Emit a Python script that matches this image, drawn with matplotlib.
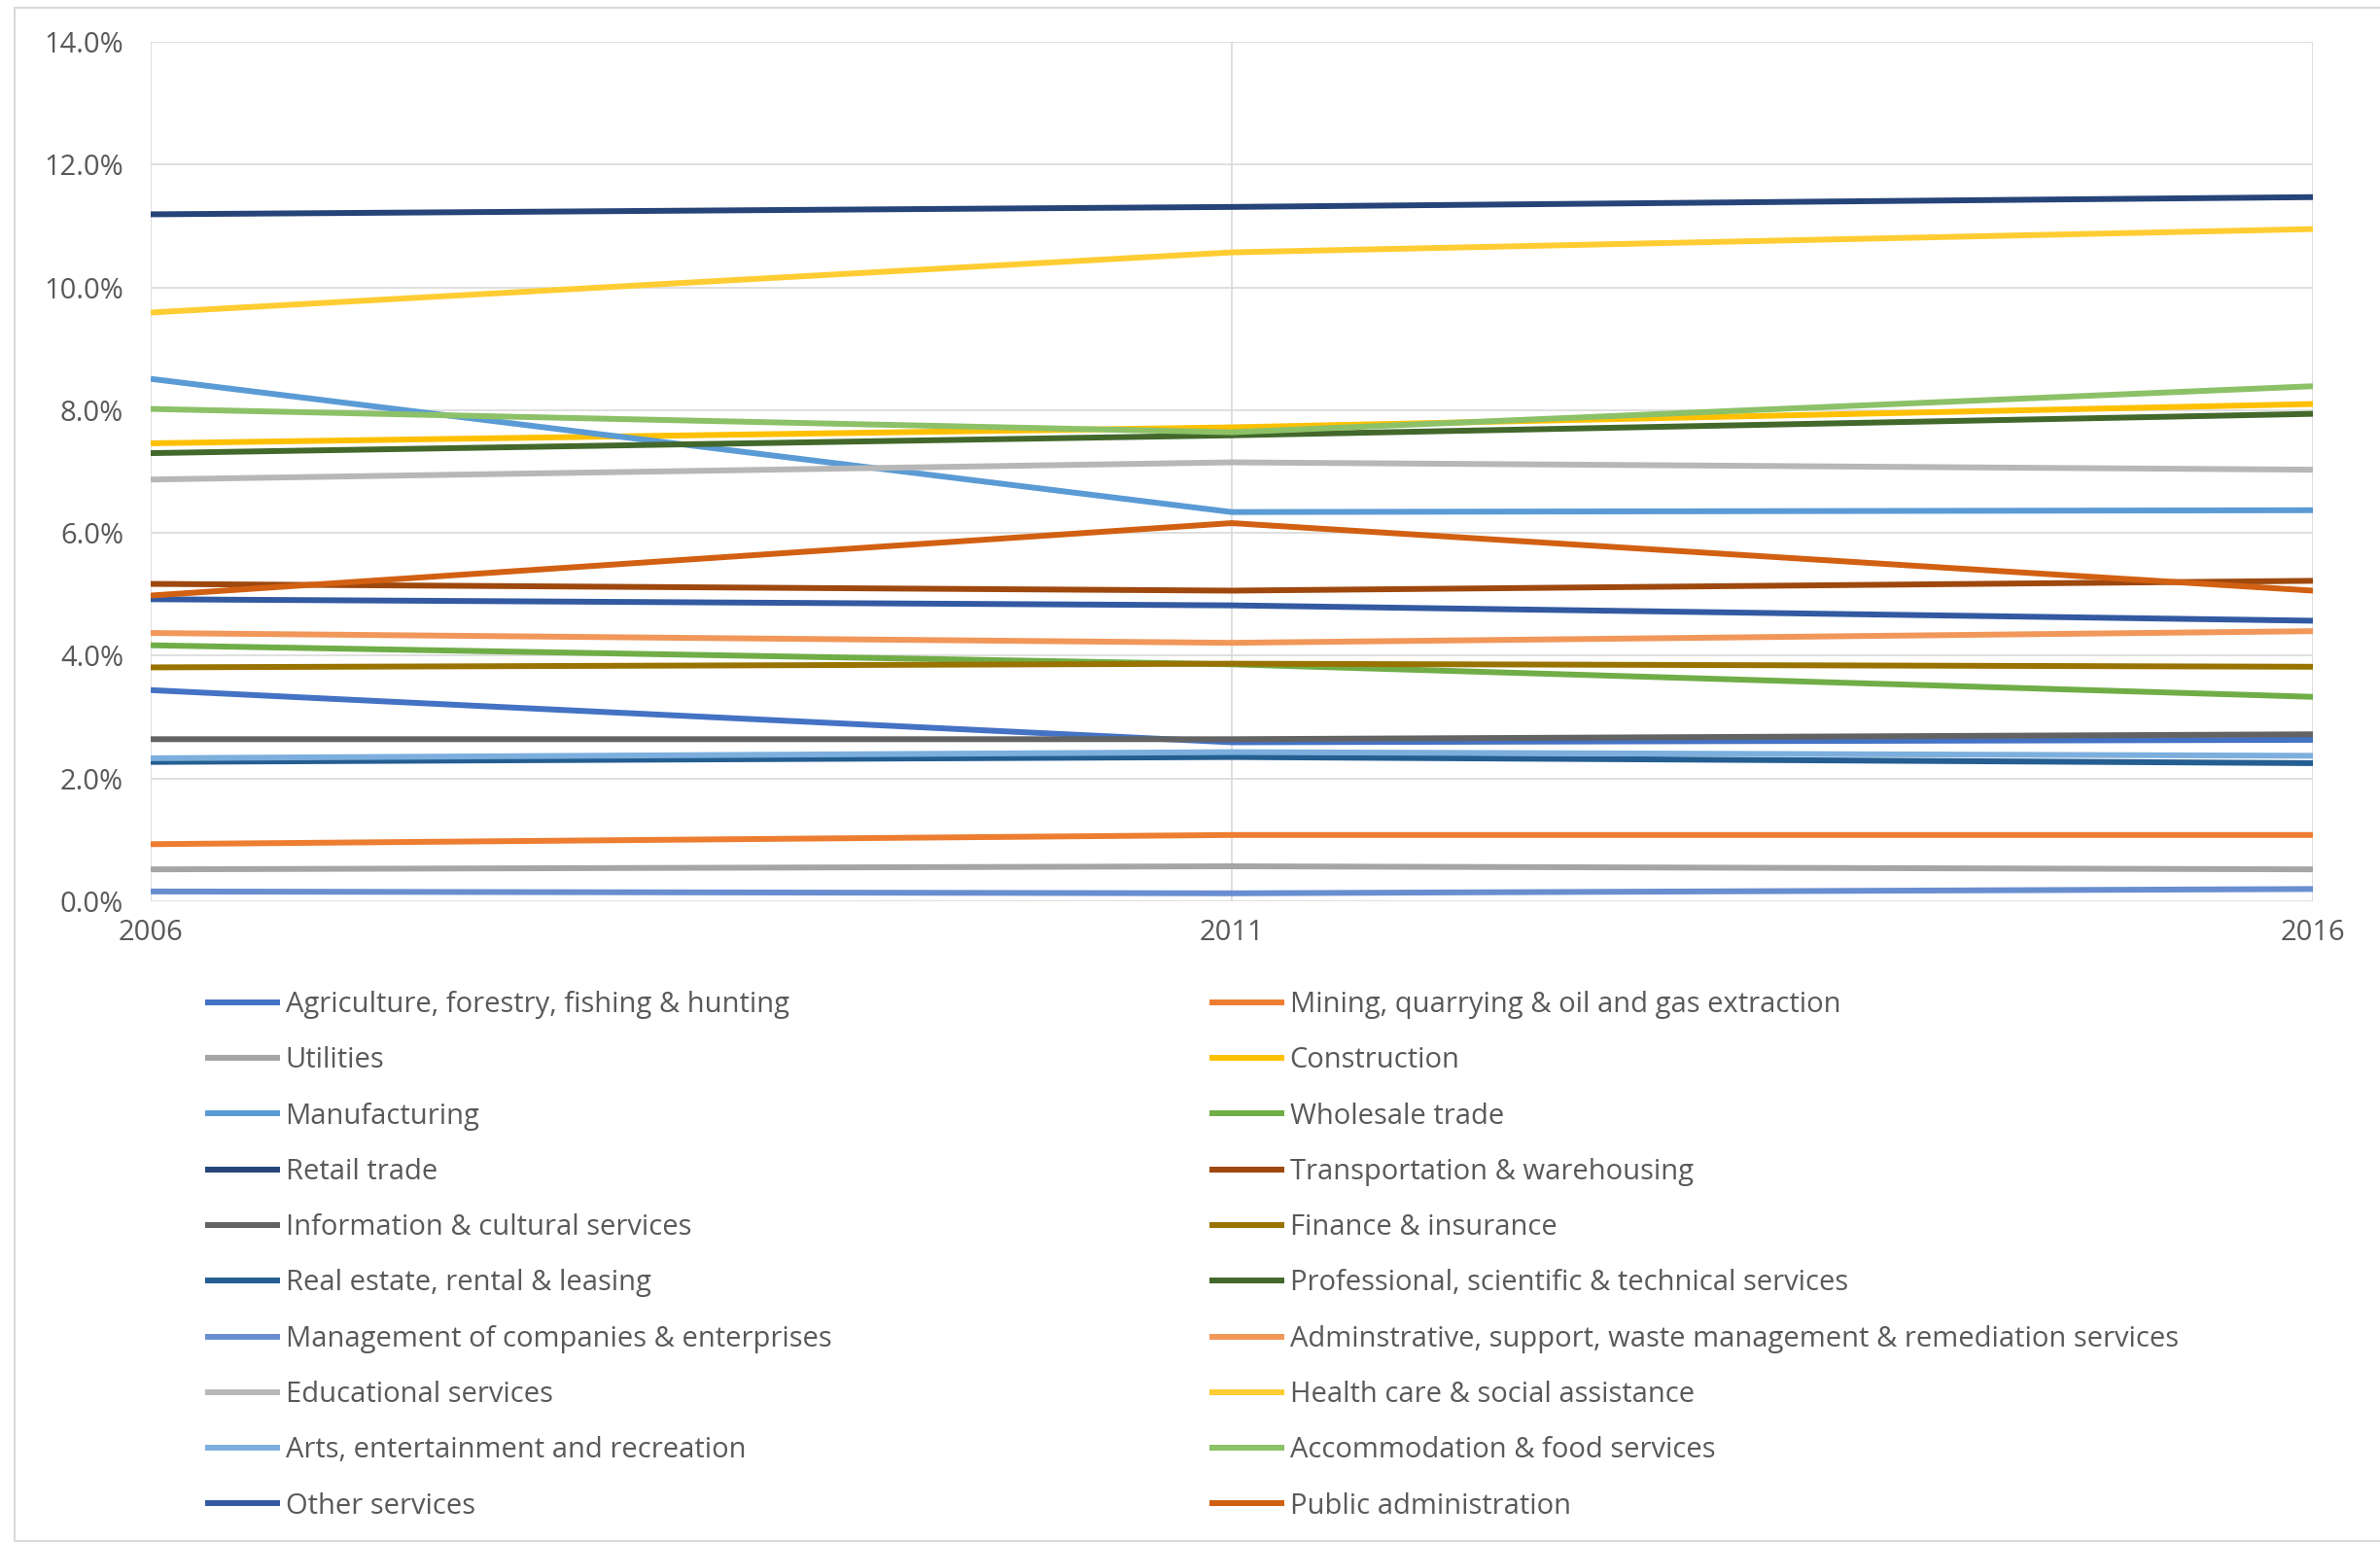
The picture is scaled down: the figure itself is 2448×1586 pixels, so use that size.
import numpy as np
import matplotlib.pyplot as plt
from matplotlib.patches import Rectangle
from matplotlib.ticker import FuncFormatter

plt.rcParams['font.family'] = ['Open Sans', 'DejaVu Sans']

# =========================================================
# DATA (share of employment, %)
# =========================================================

years = [2006, 2011, 2016]

industries = [
    "Agriculture, forestry, fishing & hunting",
    "Mining, quarrying & oil and gas extraction",
    "Utilities",
    "Construction",
    "Manufacturing",
    "Wholesale trade",
    "Retail trade",
    "Transportation & warehousing",
    "Information & cultural services",
    "Finance & insurance",
    "Real estate, rental & leasing",
    "Professional, scientific & technical services",
    "Management of companies & enterprises",
    "Adminstrative, support, waste management & remediation services",
    "Educational services",
    "Health care & social assistance",
    "Arts, entertainment and recreation",
    "Accommodation & food services",
    "Other services",
    "Public administration",
]

agriculture    = [3.44, 2.59, 2.63]
mining         = [0.93, 1.08, 1.08]
utilities      = [0.52, 0.57, 0.52]
construction   = [7.46, 7.72, 8.10]
manufacturing  = [8.51, 6.34, 6.37]
wholesale      = [4.17, 3.86, 3.33]
retail         = [11.19, 11.31, 11.47]
transportation = [5.17, 5.06, 5.22]
information    = [2.64, 2.64, 2.72]
finance        = [3.81, 3.87, 3.82]
real_estate    = [2.27, 2.35, 2.25]
professional   = [7.30, 7.59, 7.94]
management     = [0.16, 0.13, 0.20]
administrative = [4.37, 4.21, 4.40]
educational    = [6.87, 7.15, 7.03]
health         = [9.59, 10.57, 10.95]
arts           = [2.33, 2.43, 2.37]
accommodation  = [8.02, 7.64, 8.39]
other_services = [4.92, 4.82, 4.57]
public_admin   = [4.98, 6.16, 5.06]

series = [agriculture, mining, utilities, construction, manufacturing,
          wholesale, retail, transportation, information, finance,
          real_estate, professional, management, administrative,
          educational, health, arts, accommodation, other_services,
          public_admin]

colors = ["#4472C4", "#ED7D31", "#A5A5A5", "#FFC000", "#5B9BD5",
          "#70AD47", "#264478", "#9E480E", "#636363", "#997300",
          "#255E91", "#43682B", "#698ED0", "#F1975A", "#B7B7B7",
          "#FFCD33", "#7CAFDD", "#8CC168", "#335AA1", "#D26012"]

# =========================================================
# FIGURE
# =========================================================

W, H = 2448, 1586
fig = plt.figure(figsize=(W / 100, H / 100), dpi=100)

# chart area border (runs off the right edge of the screenshot)
fig.patches.append(Rectangle((15 / W, 1 / H), (W + 20) / W, (H - 9) / H,
                             transform=fig.transFigure, fill=False,
                             edgecolor="#D9D9D9", linewidth=1.5))

ax = fig.add_axes([155 / W, 1 - 927 / H, (2379 - 155) / W, (927 - 43) / H])

handles = []
for vals, name, c in zip(series, industries, colors):
    ln, = ax.plot(years, vals, color=c, linewidth=4.3,
                  solid_capstyle="butt", label=name)
    handles.append(ln)

ax.set_xlim(2006, 2016)
ax.set_ylim(0, 14)
ax.set_xticks(years)
ax.set_yticks(np.arange(0, 15, 2))
ax.yaxis.set_major_formatter(FuncFormatter(lambda v, p: f"{v:.1f}%"))

for s in ax.spines.values():
    s.set_visible(False)
ax.grid(True, color="#D9D9D9", linewidth=1.2)
ax.set_axisbelow(True)
ax.tick_params(length=0, colors="#595959", labelsize=21)
ax.tick_params(axis="y", pad=20)
ax.tick_params(axis="x", pad=13)

# =========================================================
# LEGEND (two columns, row-major like the original)
# =========================================================

leg_kw = dict(loc="upper left", frameon=False, fontsize=21,
              handlelength=2.65, handletextpad=0.18, labelspacing=0.97,
              borderpad=0, borderaxespad=0, labelcolor="#595959")

leg1 = fig.legend(handles[0::2], industries[0::2],
                  bbox_to_anchor=(211 / W, 1 - 1019 / H), **leg_kw)
leg2 = fig.legend(handles[1::2], industries[1::2],
                  bbox_to_anchor=(1244 / W, 1 - 1019 / H), **leg_kw)
for lg in (leg1, leg2):
    for h in lg.legend_handles:
        h.set_linewidth(4.3)

fig.savefig("out.png", dpi=100)
